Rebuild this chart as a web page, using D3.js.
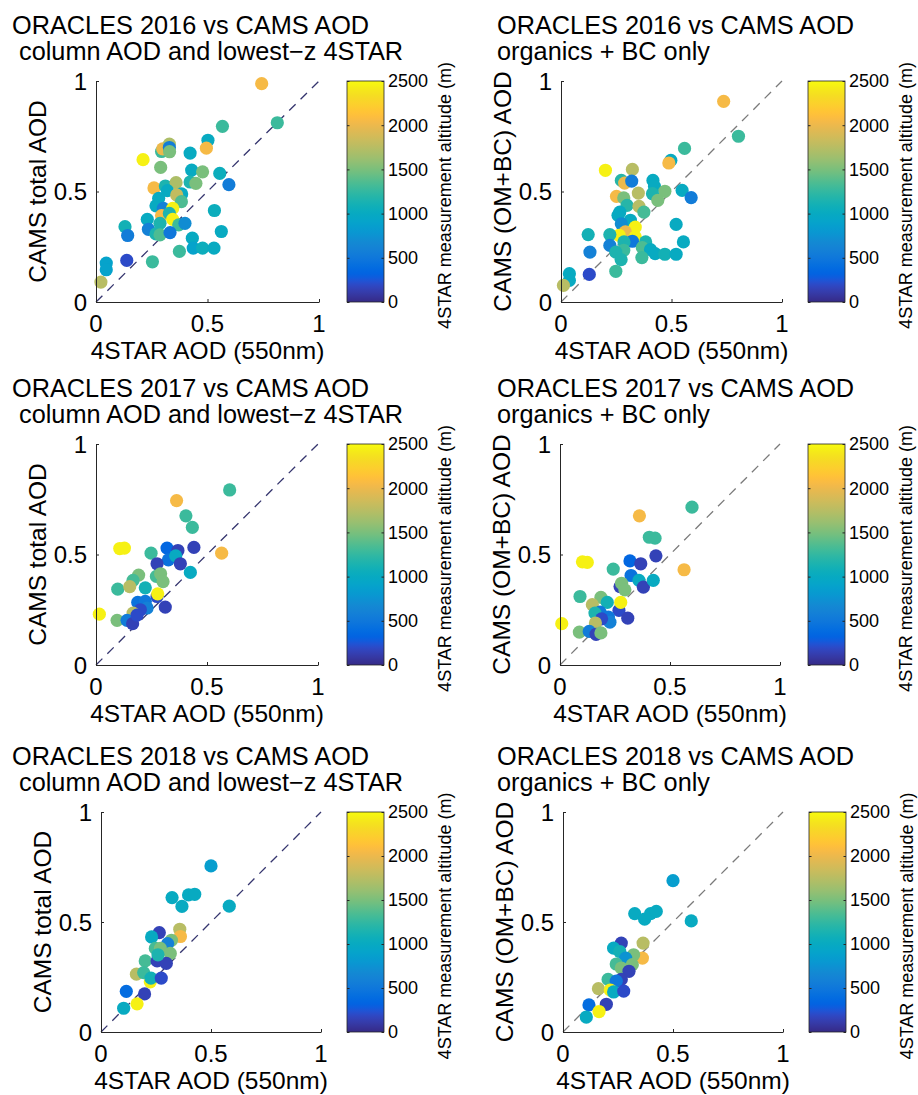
<!DOCTYPE html>
<html><head><meta charset="utf-8">
<script src="https://cdn.jsdelivr.net/npm/d3@7"></script>
<style>
body{margin:0;background:#fff}
svg{display:block}
text{font-family:"Liberation Sans",Arial,sans-serif;fill:#000}
</style>
</head><body>
<svg id="chart" width="918" height="1095"></svg>
<script>
// ---------------- DATA ----------------
const axisTicks = [0, 0.5, 1];
const axisTickLabels = ["0", "0.5", "1"];
const cbTicks = [0, 500, 1000, 1500, 2000, 2500];
const cbTickLabels = ["0", "500", "1000", "1500", "2000", "2500"];
const cbLabel = "4STAR measurement altitude (m)";
const xLabel = "4STAR AOD (550nm)";
const yLabels = ["CAMS total AOD", "CAMS (OM+BC) AOD"];
const titleLine1 = ["ORACLES 2016 vs CAMS AOD", "ORACLES 2016 vs CAMS AOD", "ORACLES 2017 vs CAMS AOD", "ORACLES 2017 vs CAMS AOD", "ORACLES 2018 vs CAMS AOD", "ORACLES 2018 vs CAMS AOD"];
const titleLine2 = [" column AOD and lowest\u2212z 4STAR", "organics + BC only", " column AOD and lowest\u2212z 4STAR", "organics + BC only", " column AOD and lowest\u2212z 4STAR", "organics + BC only"];

// 2016, total AOD
const x2016tot = [0.743,0.813,0.567,0.502,0.495,0.211,0.294,0.299,0.329,0.329,0.330,0.422,0.290,0.429,0.478,0.555,0.596,0.260,0.311,0.359,0.422,0.448,0.320,0.281,0.384,0.362,0.383,0.269,0.302,0.344,0.531,0.294,0.329,0.344,0.230,0.130,0.235,0.287,0.371,0.399,0.269,0.287,0.332,0.142,0.432,0.562,0.436,0.478,0.529,0.374,0.253,0.138,0.046,0.046,0.022];
const y2016tot = [0.988,0.811,0.795,0.732,0.696,0.644,0.681,0.693,0.714,0.699,0.680,0.674,0.609,0.597,0.589,0.582,0.531,0.516,0.525,0.540,0.543,0.537,0.504,0.469,0.489,0.484,0.454,0.435,0.424,0.424,0.414,0.391,0.401,0.374,0.374,0.341,0.329,0.356,0.349,0.356,0.308,0.304,0.314,0.301,0.289,0.319,0.244,0.244,0.244,0.229,0.182,0.188,0.176,0.146,0.090];
const z2016tot = [2050,1280,1280,1000,2050,2450,1280,2000,1700,550,1500,1000,1500,1000,1500,1050,550,2050,1150,1700,1150,1500,1000,1000,1000,1800,1350,1000,600,2450,1050,2050,1150,2450,1000,1100,600,1150,1280,700,1150,1350,500,550,1000,1000,900,1050,1000,1280,1280,200,900,900,1750];

// 2016, organics + BC
const x2016om = [0.736,0.803,0.559,0.497,0.488,0.201,0.323,0.273,0.288,0.320,0.416,0.423,0.548,0.589,0.251,0.284,0.350,0.470,0.414,0.438,0.299,0.353,0.375,0.266,0.258,0.314,0.273,0.521,0.336,0.291,0.263,0.336,0.123,0.221,0.323,0.285,0.383,0.554,0.221,0.131,0.284,0.248,0.368,0.405,0.426,0.470,0.521,0.366,0.272,0.248,0.128,0.038,0.038,0.011];
const y2016om = [0.908,0.750,0.695,0.641,0.629,0.596,0.600,0.550,0.538,0.547,0.550,0.523,0.505,0.472,0.478,0.471,0.493,0.501,0.490,0.460,0.437,0.433,0.407,0.407,0.392,0.370,0.354,0.351,0.339,0.317,0.302,0.294,0.305,0.305,0.275,0.272,0.272,0.272,0.256,0.226,0.234,0.226,0.246,0.237,0.219,0.216,0.216,0.201,0.192,0.139,0.125,0.128,0.098,0.075];
const z2016om = [2050,1280,1280,1000,2050,2450,1750,1200,2000,550,1000,1000,1000,550,2050,1500,1750,1500,1150,1500,1200,1750,1320,1000,1000,1000,700,1000,2450,2000,2450,2450,1100,1150,500,1150,1150,1000,600,600,1280,1150,1350,1000,1000,1100,1000,1280,1150,1280,200,1000,1000,1750];

// 2017, total AOD
const x2017tot = [0.602,0.363,0.405,0.434,0.107,0.128,0.248,0.320,0.369,0.441,0.326,0.359,0.275,0.380,0.566,0.425,0.192,0.272,0.291,0.302,0.167,0.098,0.152,0.222,0.275,0.278,0.312,0.188,0.222,0.230,0.200,0.167,0.015,0.095,0.140,0.165,0.185];
const y2017tot = [0.792,0.744,0.675,0.623,0.527,0.529,0.506,0.529,0.518,0.532,0.476,0.494,0.458,0.458,0.506,0.419,0.407,0.401,0.413,0.377,0.383,0.343,0.355,0.349,0.310,0.322,0.262,0.283,0.288,0.258,0.250,0.235,0.230,0.202,0.202,0.187,0.226];
const z2017tot = [1280,2050,1280,1280,2450,2450,1280,350,150,150,450,1000,150,150,2050,1000,1500,1320,1500,1500,1320,1280,1750,1100,200,2450,150,450,500,600,200,1750,2450,1500,550,150,200];

// 2017, organics + BC
const x2017om = [0.600,0.361,0.406,0.432,0.102,0.124,0.242,0.318,0.367,0.436,0.323,0.359,0.273,0.379,0.564,0.424,0.280,0.295,0.091,0.186,0.215,0.147,0.268,0.276,0.308,0.182,0.220,0.227,0.159,0.189,0.161,0.008,0.088,0.133,0.164,0.186];
const y2017om = [0.714,0.675,0.578,0.574,0.467,0.464,0.434,0.471,0.458,0.494,0.405,0.383,0.355,0.352,0.431,0.383,0.370,0.340,0.310,0.306,0.283,0.273,0.247,0.283,0.212,0.239,0.217,0.194,0.235,0.209,0.190,0.187,0.149,0.152,0.139,0.145];
const z2017om = [1280,2050,1280,1280,2450,2450,1280,350,150,150,450,1000,150,150,2050,1000,1500,1500,1280,1500,1100,1750,200,2450,150,500,500,600,1150,200,1750,2450,1500,550,150,1500];

// 2018, total AOD
const x2018tot = [0.500,0.323,0.398,0.426,0.368,0.583,0.358,0.361,0.265,0.230,0.320,0.303,0.247,0.270,0.315,0.201,0.255,0.297,0.161,0.194,0.224,0.227,0.274,0.115,0.198,0.164,0.103,0.259];
const y2018tot = [0.755,0.611,0.623,0.626,0.571,0.572,0.467,0.434,0.452,0.432,0.417,0.402,0.380,0.380,0.357,0.323,0.323,0.312,0.263,0.270,0.228,0.245,0.245,0.185,0.173,0.128,0.108,0.351];
const z2018tot = [850,1000,1000,1000,1000,1000,1750,2050,150,1000,1500,600,1320,1500,1500,1320,150,150,1750,1280,2450,1100,200,400,150,2450,1000,1150];

// 2018, organics + BC
const x2018om = [0.500,0.326,0.371,0.398,0.424,0.583,0.364,0.361,0.265,0.230,0.258,0.321,0.285,0.242,0.265,0.315,0.300,0.205,0.265,0.242,0.161,0.215,0.230,0.276,0.118,0.197,0.164,0.106];
const y2018om = [0.688,0.538,0.513,0.538,0.548,0.505,0.404,0.336,0.404,0.381,0.366,0.351,0.336,0.309,0.291,0.306,0.276,0.239,0.239,0.231,0.197,0.191,0.182,0.186,0.123,0.126,0.093,0.068];
const z2018om = [850,1000,1000,1000,1000,1000,1750,2050,150,1000,1100,1500,750,1320,1500,1500,150,1280,150,500,1750,2450,1000,200,400,150,2450,1000];

const seriesX = [x2016tot, x2016om, x2017tot, x2017om, x2018tot, x2018om];
const seriesY = [y2016tot, y2016om, y2017tot, y2017om, y2018tot, y2018om];
const seriesZ = [z2016tot, z2016om, z2017tot, z2017om, z2018tot, z2018om];

// MATLAB parula colormap (64 rows)
const parula = [[0.2081,0.1663,0.5292],[0.2116,0.1898,0.5777],[0.2123,0.2138,0.6270],[0.2081,0.2386,0.6771],[0.1959,0.2645,0.7279],[0.1707,0.2919,0.7792],[0.1253,0.3242,0.8303],[0.0591,0.3598,0.8683],[0.0117,0.3875,0.8820],[0.0060,0.4086,0.8828],[0.0165,0.4266,0.8786],[0.0329,0.4430,0.8720],[0.0498,0.4586,0.8641],[0.0629,0.4737,0.8554],[0.0723,0.4887,0.8467],[0.0779,0.5040,0.8384],[0.0793,0.5200,0.8312],[0.0749,0.5375,0.8263],[0.0641,0.5570,0.8240],[0.0488,0.5772,0.8228],[0.0343,0.5966,0.8199],[0.0265,0.6137,0.8135],[0.0239,0.6287,0.8038],[0.0231,0.6418,0.7913],[0.0228,0.6535,0.7768],[0.0267,0.6642,0.7607],[0.0384,0.6743,0.7436],[0.0590,0.6838,0.7254],[0.0843,0.6928,0.7062],[0.1133,0.7015,0.6859],[0.1453,0.7098,0.6646],[0.1801,0.7177,0.6424],[0.2178,0.7250,0.6193],[0.2586,0.7317,0.5954],[0.3022,0.7376,0.5712],[0.3482,0.7424,0.5473],[0.3953,0.7459,0.5244],[0.4420,0.7481,0.5033],[0.4871,0.7491,0.4840],[0.5300,0.7491,0.4661],[0.5709,0.7485,0.4494],[0.6099,0.7473,0.4337],[0.6473,0.7456,0.4188],[0.6834,0.7435,0.4044],[0.7184,0.7411,0.3905],[0.7525,0.7384,0.3768],[0.7858,0.7356,0.3633],[0.8185,0.7327,0.3498],[0.8507,0.7299,0.3360],[0.8824,0.7274,0.3217],[0.9139,0.7258,0.3063],[0.9450,0.7261,0.2886],[0.9739,0.7314,0.2666],[0.9938,0.7455,0.2403],[0.9990,0.7653,0.2164],[0.9955,0.7861,0.1967],[0.9880,0.8066,0.1794],[0.9789,0.8271,0.1633],[0.9697,0.8481,0.1475],[0.9626,0.8705,0.1309],[0.9589,0.8949,0.1132],[0.9598,0.9218,0.0948],[0.9661,0.9514,0.0755],[0.9763,0.9831,0.0538]];

// ---------------- LAYOUT ----------------
const layout = [
  {x0:96,  x1:319, yT:81,  yB:302,  cb:347, tx:12,  ty:34,  yl:0, diag:"#35356e"},
  {x0:561, x1:782, yT:81,  yB:302,  cb:808, tx:497, ty:34,  yl:1, diag:"#7a7a7a"},
  {x0:96,  x1:318, yT:444, yB:665,  cb:347, tx:12,  ty:397, yl:0, diag:"#35356e"},
  {x0:560, x1:780, yT:444, yB:665,  cb:808, tx:497, ty:397, yl:1, diag:"#7a7a7a"},
  {x0:101, x1:321, yT:812, yB:1032, cb:347, tx:12,  ty:765, yl:0, diag:"#35356e"},
  {x0:563, x1:783, yT:812, yB:1032, cb:809, tx:497, ty:765, yl:1, diag:"#7a7a7a"}
];
const cbW = 37;
const axisColor = "#262626";

const svg = d3.select("#chart");
const toHex = c => d3.rgb(c[0]*255, c[1]*255, c[2]*255).formatHex();
const cmapColors = parula.map(toHex);
const color = d3.scaleLinear()
  .domain(d3.range(64).map(i => i / 63 * 2500))
  .range(cmapColors)
  .clamp(true);

const defs = svg.append("defs");
const grad = defs.append("linearGradient").attr("id", "parulaGrad")
  .attr("x1", 0).attr("y1", 1).attr("x2", 0).attr("y2", 0);
cmapColors.forEach((c, i) => grad.append("stop").attr("offset", (i / 63)).attr("stop-color", c));

layout.forEach((L, k) => {
  const g = svg.append("g");
  const x = d3.scaleLinear().domain([0, 1]).range([L.x0, L.x1]);
  const y = d3.scaleLinear().domain([0, 1]).range([L.yB, L.yT]);

  // title
  g.append("text").attr("x", L.tx).attr("y", L.ty).attr("font-size", 25.3).text(titleLine1[k]);
  g.append("text").attr("x", L.tx).attr("y", L.ty + 26).attr("font-size", 25.3)
    .attr("xml:space", "preserve").style("white-space", "pre").text(titleLine2[k]);

  // 1:1 dashed line
  g.append("line")
    .attr("x1", x(0)).attr("y1", y(0)).attr("x2", x(1)).attr("y2", y(1))
    .attr("stroke", L.diag).attr("stroke-width", 1.3).attr("stroke-dasharray", "9,7");

  // points
  const pts = d3.range(seriesX[k].length).map(i => ({x: seriesX[k][i], y: seriesY[k][i], z: seriesZ[k][i]}));
  g.append("g").selectAll("circle").data(pts).join("circle")
    .attr("cx", d => x(d.x)).attr("cy", d => y(d.y)).attr("r", 6.6)
    .attr("fill", d => color(d.z));

  // axes (box off, ticks inward)
  const xa = d3.axisTop(x).tickValues(axisTicks).tickSize(3).tickFormat("").tickSizeOuter(0);
  const gx = g.append("g").attr("transform", `translate(0,${L.yB})`).call(xa);
  const ya = d3.axisRight(y).tickValues(axisTicks).tickSize(3).tickFormat("").tickSizeOuter(0);
  const gy = g.append("g").attr("transform", `translate(${L.x0},0)`).call(ya);
  [gx, gy].forEach(a => { a.select(".domain").attr("stroke", axisColor).attr("stroke-width", 1); a.selectAll(".tick line").attr("stroke", axisColor); });

  // tick labels
  g.append("g").selectAll("text").data(axisTicks).join("text")
    .attr("x", d => x(d)).attr("y", L.yB + 30).attr("text-anchor", "middle").attr("font-size", 24)
    .text((d, i) => axisTickLabels[i]);
  g.append("g").selectAll("text").data(axisTicks).join("text")
    .attr("x", L.x0 - 9).attr("y", d => y(d)).attr("dy", "0.36em").attr("text-anchor", "end").attr("font-size", 24)
    .text((d, i) => axisTickLabels[i]);

  // axis labels
  g.append("text").attr("x", (L.x0 + L.x1) / 2).attr("y", L.yB + 57).attr("text-anchor", "middle")
    .attr("font-size", 24.5).text(xLabel);
  g.append("text").attr("transform", `translate(${L.x0 - 50},${(L.yT + L.yB) / 2}) rotate(-90)`)
    .attr("text-anchor", "middle").attr("font-size", 24.5).text(yLabels[L.yl]);

  // colorbar
  const cz = d3.scaleLinear().domain([0, 2500]).range([L.yB, L.yT]);
  g.append("rect").attr("x", L.cb).attr("y", L.yT).attr("width", cbW).attr("height", L.yB - L.yT)
    .attr("fill", "url(#parulaGrad)").attr("stroke", axisColor).attr("stroke-width", 0.8);
  const cbaR = d3.axisLeft(cz).tickValues(cbTicks).tickSize(2.5).tickFormat("").tickSizeOuter(0);
  const gc = g.append("g").attr("transform", `translate(${L.cb + cbW},0)`).call(cbaR);
  gc.select(".domain").remove();
  gc.selectAll(".tick line").attr("stroke", axisColor);
  const cbaL = d3.axisRight(cz).tickValues(cbTicks).tickSize(2.5).tickFormat("").tickSizeOuter(0);
  const gc2 = g.append("g").attr("transform", `translate(${L.cb},0)`).call(cbaL);
  gc2.select(".domain").remove();
  gc2.selectAll(".tick line").attr("stroke", axisColor);
  g.append("g").selectAll("text").data(cbTicks).join("text")
    .attr("x", L.cb + cbW + 4).attr("y", d => cz(d)).attr("dy", "0.36em").attr("font-size", 18)
    .text((d, i) => cbTickLabels[i]);
  g.append("text").attr("transform", `translate(${L.cb + cbW + 67},${(L.yT + L.yB) / 2 + 4}) rotate(-90)`)
    .attr("text-anchor", "middle").attr("font-size", 18).text(cbLabel);
});
</script>
</body></html>
